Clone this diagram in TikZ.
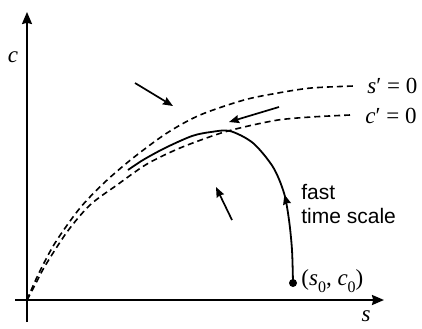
\documentclass[tikz,border=0pt]{standalone}
\usepackage{fontspec}
\setsansfont{Liberation Sans}
\newfontfamily\serifface{Liberation Serif}
\usetikzlibrary{arrows.meta,decorations.markings}
\newcommand{\lowsub}[1]{\raisebox{-3.2pt}{\fontsize{8}{8}\selectfont #1}}
\tikzset{
  axis/.style={draw=black, line width=1pt, -{Stealth[length=6pt,width=5pt,inset=0.6pt]}},
  nullcline/.style={draw=black, line width=0.8pt, dash pattern=on 3pt off 2pt},
  orbit/.style={draw=black, line width=0.9pt},
  flow/.style={-{Stealth[length=5pt,width=4pt,inset=0.5pt]}, line width=0.85pt},
  start/.style={circle, fill=black, inner sep=0pt, minimum size=4pt},
  mathlabel/.style={inner sep=0pt, font=\serifface\fontsize{11.5}{12}\selectfont},
  textlabel/.style={inner sep=0pt, align=left, font=\sffamily\fontsize{10.5}{12}\selectfont}
}

\begin{document}
\begin{tikzpicture}[x=0.5pt, y=-0.5pt]
  \useasboundingbox (0,0) rectangle (422,328);
  % axes
  \coordinate (O) at (27,300);
  \coordinate (xlo) at (15,300);
  \coordinate (xhi) at (384,300);
  \coordinate (ylo) at (27,322);
  \coordinate (yhi) at (27,12);
  \draw[axis] (xlo) -- (xhi);
  \draw[axis] (ylo) -- (yhi);
  \node[mathlabel] (slabel) at (366,316) {\textit{s}};
  \node[mathlabel] (clabel) at (13,57) {\textit{c}};
  % nullclines
  \draw[nullcline] plot[smooth] coordinates {(O) (38,275) (55,243) (80,208) (105,182)
    (133,158) (167,133) (200,115) (244,100) (278,93) (311,88) (354,86)};
  \draw[nullcline] plot[smooth] coordinates {(O) (35,285) (45,266) (67,232) (90,205)
    (117,185) (147,164) (180,148) (218,134) (244,127) (278,120) (311,117) (350,115)};
  \node[mathlabel, anchor=west] (sdot) at (367,86) {\textit{s}′ = 0};
  \node[mathlabel, anchor=west] (cdot) at (365,116) {\textit{c}′ = 0};
  % trajectory from the initial point
  \node[start] (init) at (293,283) {};
  \node[mathlabel, anchor=west] (initlabel) at (301,281)
    {(\textit{s}\lowsub{0}, \textit{c}\lowsub{0})};
  \draw[orbit, postaction={decorate}, decoration={markings,
      mark=at position 0.31 with {\arrow{Stealth[length=5pt,width=4pt,inset=0.5pt]}}}]
    plot[smooth] coordinates {(init.center) (292,250) (289,220) (284,193) (273,167)
      (253,143) (230,131) (211,132) (192,136) (165,148) (143,160) (128,170)};
  \node[textlabel, anchor=west] (fast) at (301,204) {fast\\time scale};
  % direction of flow
  \coordinate (a1) at (135,83);
  \coordinate (b1) at (173,106);
  \coordinate (a2) at (279,107);
  \coordinate (b2) at (229,122);
  \coordinate (a3) at (232,220);
  \coordinate (b3) at (216,187);
  \draw[flow] (a1) -- (b1);
  \draw[flow] (a2) -- (b2);
  \draw[flow] (a3) -- (b3);
\end{tikzpicture}
\end{document}
